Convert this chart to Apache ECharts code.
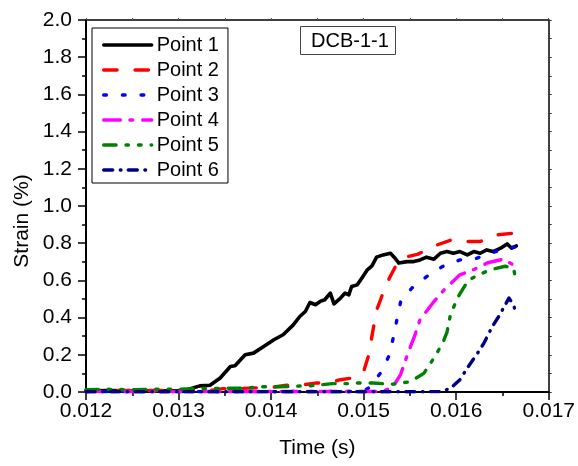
<!DOCTYPE html>
<html>
<head>
<meta charset="utf-8">
<script src="https://cdn.jsdelivr.net/npm/echarts@6/dist/echarts.min.js"></script>
<style>
  html, body { margin: 0; padding: 0; background: #fff; }
  #chart { width: 578px; height: 466px; }
</style>
</head>
<body>
<div id="chart"></div>
<script>
// Strain histories of six gauge points, DCB-1-1 test
const seriesNames = ['Point 1', 'Point 2', 'Point 3', 'Point 4', 'Point 5', 'Point 6'];

const p1Time = [0.0120, 0.01225, 0.0125, 0.01275, 0.0130, 0.01308, 0.01312, 0.01323, 0.01334, 0.01345, 0.01356, 0.01361,
  0.01372, 0.01381, 0.01392, 0.01403, 0.01413, 0.01424, 0.01431, 0.01437, 0.01442, 0.01448, 0.01453, 0.01458, 0.01464,
  0.01468, 0.01475, 0.0148, 0.01484, 0.01487, 0.01493, 0.01498, 0.01504, 0.01509, 0.01514, 0.01521, 0.01529, 0.01534,
  0.01538, 0.01547, 0.01554, 0.01561, 0.01568, 0.01576, 0.01583, 0.0159, 0.01597, 0.01604, 0.01612, 0.01619, 0.01626,
  0.01633, 0.0164, 0.01648, 0.01655, 0.0166, 0.01665];
const p1Strain = [0.006, 0.008, 0.007, 0.006, 0.008, 0.010, 0.016, 0.033, 0.036, 0.075, 0.137, 0.141,
  0.200, 0.209, 0.245, 0.281, 0.308, 0.361, 0.406, 0.433, 0.481, 0.469, 0.487, 0.496, 0.532,
  0.474, 0.505, 0.532, 0.522, 0.567, 0.576, 0.612, 0.657, 0.678, 0.725, 0.737, 0.746, 0.719,
  0.693, 0.701, 0.701, 0.710, 0.725, 0.714, 0.746, 0.755, 0.746, 0.755, 0.737, 0.755, 0.746,
  0.764, 0.755, 0.773, 0.796, 0.773, 0.785];

const p2Time = [0.0120, 0.0125, 0.0130, 0.01323, 0.01337, 0.01348, 0.01363, 0.0140, 0.01417, 0.01431, 0.01448, 0.01461,
  0.01475, 0.01491, 0.0150, 0.01505, 0.01514, 0.01525, 0.01536, 0.01545, 0.01558, 0.01579, 0.01595, 0.01612, 0.01626,
  0.01644, 0.01665];
const p2Strain = [0.006, 0.008, 0.008, 0.009, 0.010, 0.018, 0.018, 0.025, 0.036, 0.036, 0.048, 0.048,
  0.066, 0.078, 0.110, 0.190, 0.440, 0.585, 0.690, 0.725, 0.740, 0.790, 0.818, 0.809, 0.809,
  0.845, 0.855];

const p3Time = [0.0120, 0.0130, 0.0140, 0.0145, 0.0149, 0.0150, 0.01505, 0.01518, 0.01527, 0.01532, 0.01536, 0.0154,
  0.01552, 0.01568, 0.01585, 0.01604, 0.01621, 0.01637, 0.01655, 0.01664];
const p3Strain = [0.002, 0.002, 0.002, 0.003, 0.003, 0.006, 0.020, 0.100, 0.190, 0.290, 0.390, 0.486,
  0.558, 0.620, 0.674, 0.710, 0.717, 0.746, 0.773, 0.780];

const p4Time = [0.0120, 0.0130, 0.0140, 0.0150, 0.01521, 0.01532, 0.0154, 0.01548, 0.01555, 0.01561, 0.01575, 0.01587,
  0.01604, 0.0162, 0.01634, 0.01651, 0.01665];
const p4Strain = [0.002, 0.003, 0.003, 0.003, 0.003, 0.030, 0.095, 0.210, 0.300, 0.390, 0.480, 0.550,
  0.630, 0.660, 0.695, 0.714, 0.674];

const p5Time = [0.0120, 0.0122, 0.0125, 0.0128, 0.0130, 0.0132, 0.0135, 0.01374, 0.01385, 0.01406, 0.0142, 0.01444,
  0.01466, 0.01482, 0.01493, 0.0151, 0.01532, 0.0155, 0.01565, 0.01577, 0.01586, 0.0159, 0.01594, 0.01603, 0.01613,
  0.01624, 0.01637, 0.01653, 0.01662, 0.01664];
const p5Strain = [0.012, 0.015, 0.012, 0.015, 0.015, 0.018, 0.020, 0.020, 0.028, 0.028, 0.030, 0.034,
  0.045, 0.045, 0.048, 0.048, 0.042, 0.055, 0.100, 0.190, 0.270, 0.320, 0.420, 0.520, 0.600,
  0.630, 0.657, 0.676, 0.666, 0.612];

const p6Time = [0.0120, 0.0130, 0.0140, 0.0150, 0.01586, 0.01596, 0.01604, 0.01612, 0.01622, 0.0163, 0.01639, 0.01646,
  0.01653, 0.01657, 0.01662, 0.01664];
const p6Strain = [0.001, 0.001, 0.001, 0.001, 0.002, 0.030, 0.066, 0.129, 0.200, 0.263, 0.352, 0.406,
  0.469, 0.505, 0.469, 0.433];

const xTicks = { min: 0.012, max: 0.017, step: 0.001 };
const yTicks = { min: 0, max: 2.0, step: 0.2 };

const seriesTimes = [p1Time, p2Time, p3Time, p4Time, p5Time, p6Time];
const seriesStrains = [p1Strain, p2Strain, p3Strain, p4Strain, p5Strain, p6Strain];
const seriesColors = ['#000000', '#ff0000', '#0000ff', '#ff00ff', '#008000', '#000080'];
const seriesDashes = [
  'solid',
  [13.4, 18],
  [2.7, 16],
  [16.7, 9.6, 2.7, 10],
  [12.4, 9.9, 2.4, 10, 2.7, 10],
  [9, 7.6, 0.7, 7.3]
];

const FONT = 'Arial, "Liberation Sans", sans-serif';

const series = seriesNames.map((name, i) => ({
  name,
  type: 'line',
  data: seriesTimes[i].map((t, k) => [t, seriesStrains[i][k]]),
  showSymbol: false,
  symbol: 'none',
  color: seriesColors[i],
  lineStyle: {
    color: seriesColors[i],
    width: i === 0 ? 3.6 : 3.4,
    type: seriesDashes[i],
    cap: 'round',
    join: 'round'
  },
  emphasis: { disabled: true },
  animation: false,
  z: 2 + i
}));

const chart = echarts.init(document.getElementById('chart'), null, { renderer: 'canvas' });
chart.setOption({
  backgroundColor: '#ffffff',
  animation: false,
  textStyle: { fontFamily: FONT },
  grid: { left: 86, right: 29, top: 20, bottom: 74, containLabel: false },
  legend: {
    orient: 'vertical',
    left: 92,
    top: 28,
    padding: [7, 9, 3, 10],
    itemGap: 5,
    itemWidth: 48,
    itemHeight: 20,
    borderColor: '#000',
    borderWidth: 1,
    backgroundColor: '#fff',
    // line samples only, no marker in the middle
    itemStyle: { opacity: 0, borderWidth: 0 },
    lineStyle: { width: 3.4, cap: 'round' },
    textStyle: { fontSize: 20, color: '#000', fontFamily: FONT },
    data: seriesNames
  },
  xAxis: [
    {
      type: 'value',
      position: 'bottom',
      min: xTicks.min,
      max: xTicks.max,
      interval: xTicks.step,
      name: 'Time (s)',
      nameLocation: 'middle',
      nameGap: 46,
      nameTextStyle: { fontSize: 21, color: '#000', fontFamily: FONT },
      axisLine: { show: true, onZero: false, lineStyle: { color: '#000', width: 2 } },
      axisTick: { show: true, inside: false, length: 8, lineStyle: { color: '#000', width: 1.5 } },
      minorTick: { show: true, splitNumber: 2, length: 4, lineStyle: { color: '#000', width: 1.5 } },
      axisLabel: { fontSize: 21, color: '#000', margin: 9, fontFamily: FONT,
        formatter: v => v.toFixed(3) },
      splitLine: { show: false }
    },
    {
      type: 'value',
      position: 'top',
      min: xTicks.min,
      max: xTicks.max,
      interval: xTicks.step / 2,
      axisLine: { show: true, onZero: false, lineStyle: { color: '#000', width: 1.5 } },
      axisTick: { show: true, inside: false, length: 2, lineStyle: { color: '#555', width: 1 } },
      axisLabel: { show: false },
      splitLine: { show: false }
    }
  ],
  yAxis: [
    {
      type: 'value',
      position: 'left',
      min: yTicks.min,
      max: yTicks.max,
      interval: yTicks.step,
      axisLine: { show: true, onZero: false, lineStyle: { color: '#000', width: 2 } },
      axisTick: { show: true, inside: false, length: 8, lineStyle: { color: '#000', width: 1.5 } },
      minorTick: { show: true, splitNumber: 2, length: 4, lineStyle: { color: '#000', width: 1.5 } },
      axisLabel: { fontSize: 21, color: '#000', margin: 14, fontFamily: FONT,
        formatter: v => v.toFixed(1) },
      splitLine: { show: false }
    },
    {
      type: 'value',
      position: 'right',
      min: yTicks.min,
      max: yTicks.max,
      interval: yTicks.step / 2,
      axisLine: { show: true, onZero: false, lineStyle: { color: '#000', width: 1.5 } },
      axisTick: { show: true, inside: false, length: 3, lineStyle: { color: '#333', width: 1 } },
      axisLabel: { show: false },
      splitLine: { show: false }
    }
  ],
  graphic: [
    {
      type: 'text',
      x: 22,
      y: 221,
      rotation: Math.PI / 2,
      style: {
        text: 'Strain (%)',
        font: '21px ' + FONT,
        fill: '#000',
        align: 'center',
        verticalAlign: 'middle'
      }
    },
    {
      type: 'rect',
      shape: { x: 300.5, y: 26.5, width: 95, height: 28 },
      style: { fill: '#fff', stroke: '#444', lineWidth: 1 },
      z: 10
    },
    {
      type: 'text',
      x: 350,
      y: 41,
      style: {
        text: 'DCB-1-1',
        font: '20px ' + FONT,
        fill: '#000',
        align: 'center',
        verticalAlign: 'middle'
      },
      z: 11
    }
  ],
  series
});
</script>
</body>
</html>
